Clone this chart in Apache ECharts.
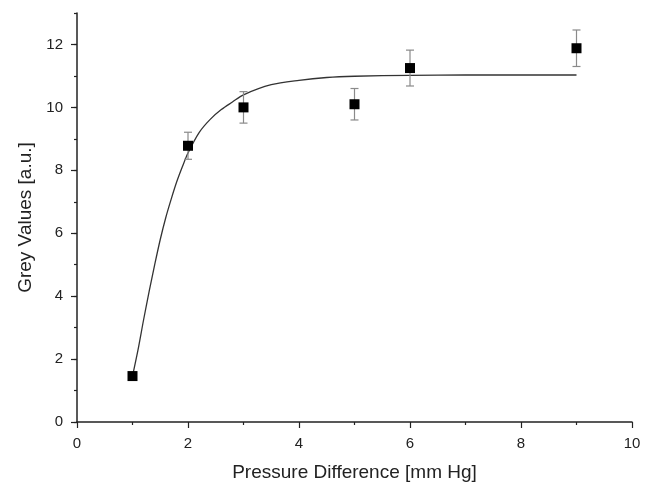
<!DOCTYPE html>
<html>
<head>
<meta charset="utf-8">
<script src="https://cdn.jsdelivr.net/npm/echarts@6/dist/echarts.min.js"></script>
<style>
  html, body { margin: 0; padding: 0; background: #fff; }
  #chart { width: 655px; height: 485px; }
</style>
</head>
<body>
<div id="chart"></div>
<script>
const pressure = [1, 2, 3, 5, 6, 9]
const grey = [1.46, 8.78, 10.0, 10.1, 11.25, 11.88]
const greyErr = [0.05, 0.43, 0.5, 0.5, 0.57, 0.58]

// fitted curve
const fitX = [1, 1.1, 1.2, 1.3, 1.4, 1.5, 1.6, 1.7, 1.8, 1.9, 2.0, 2.2, 2.4, 2.6, 2.8, 3.0, 3.5, 4.0, 4.5, 5.0, 6.0, 7.0, 8.0, 9.0]
const fitY = [1.46, 2.3, 3.25, 4.15, 5.0, 5.8, 6.5, 7.1, 7.65, 8.12, 8.55, 9.2, 9.62, 9.93, 10.17, 10.4, 10.72, 10.86, 10.95, 10.99, 11.02, 11.03, 11.03, 11.03]

const yTicks = [0, 2, 4, 6, 8, 10, 12]

const font = "'Liberation Sans', Arial, sans-serif"
const ink = "#222"

const chart = echarts.init(document.getElementById("chart"), null, { renderer: "canvas" })

const axisLine = { show: true, onZero: false, lineStyle: { color: ink, width: 1.5 } }

chart.setOption({
  animation: false,
  grid: { left: 77, right: 23, top: 13, bottom: 63, containLabel: false, outerBoundsMode: "none" },
  xAxis: {
    type: "value",
    min: 0,
    max: 10,
    interval: 2,
    name: "Pressure Difference [mm Hg]",
    nameLocation: "middle",
    nameGap: 41,
    nameTextStyle: { color: ink, fontSize: 19, fontFamily: font },
    axisLine,
    axisTick: { show: true, length: 6, lineStyle: { color: ink, width: 1.2 } },
    minorTick: { show: true, splitNumber: 2, length: 3, lineStyle: { color: ink, width: 1.2 } },
    axisLabel: { color: ink, fontSize: 15, fontFamily: font, margin: 14 },
    splitLine: { show: false }
  },
  yAxis: [{
    type: "value",
    min: 0,
    max: 13,
    interval: 1,
    name: "Grey Values [a.u.]",
    nameLocation: "middle",
    nameGap: 39,
    nameTextStyle: { color: ink, fontSize: 19, fontFamily: font },
    axisLine,
    axisTick: { show: true, length: 3, lineStyle: { color: ink, width: 1.2 } },
    axisLabel: {
      color: ink, fontSize: 15, fontFamily: font, margin: 14,
      formatter: (v) => (yTicks.includes(v) ? String(v) : "")
    },
    splitLine: { show: false }
  }, {
    type: "value",
    position: "left",
    min: 0,
    max: 13,
    interval: 1,
    axisLine: { show: false },
    axisTick: { show: true, length: 6, customValues: yTicks, lineStyle: { color: ink, width: 1.2 } },
    axisLabel: { show: false },
    splitLine: { show: false }
  }],
  series: [
    {
      type: "line",
      data: fitX.map((x, i) => [x, fitY[i]]),
      smooth: 0.3,
      showSymbol: false,
      lineStyle: { color: "#333", width: 1.3 },
      z: 2
    },
    {
      type: "custom",
      data: pressure.map((x, i) => [x, grey[i] - greyErr[i], grey[i] + greyErr[i]]),
      renderItem: (params, api) => {
        const lo = api.coord([api.value(0), api.value(1)])
        const hi = api.coord([api.value(0), api.value(2)])
        const cap = 4
        const style = { stroke: "#8a8a8a", lineWidth: 1.2 }
        return {
          type: "group",
          children: [
            { type: "line", shape: { x1: lo[0], y1: lo[1], x2: hi[0], y2: hi[1] }, style },
            { type: "line", shape: { x1: lo[0] - cap, y1: lo[1], x2: lo[0] + cap, y2: lo[1] }, style },
            { type: "line", shape: { x1: hi[0] - cap, y1: hi[1], x2: hi[0] + cap, y2: hi[1] }, style }
          ]
        }
      },
      z: 3
    },
    {
      type: "scatter",
      data: pressure.map((x, i) => [x, grey[i]]),
      symbol: "rect",
      symbolSize: 10,
      itemStyle: { color: "#000", opacity: 1 },
      z: 4
    }
  ]
})
</script>
</body>
</html>
